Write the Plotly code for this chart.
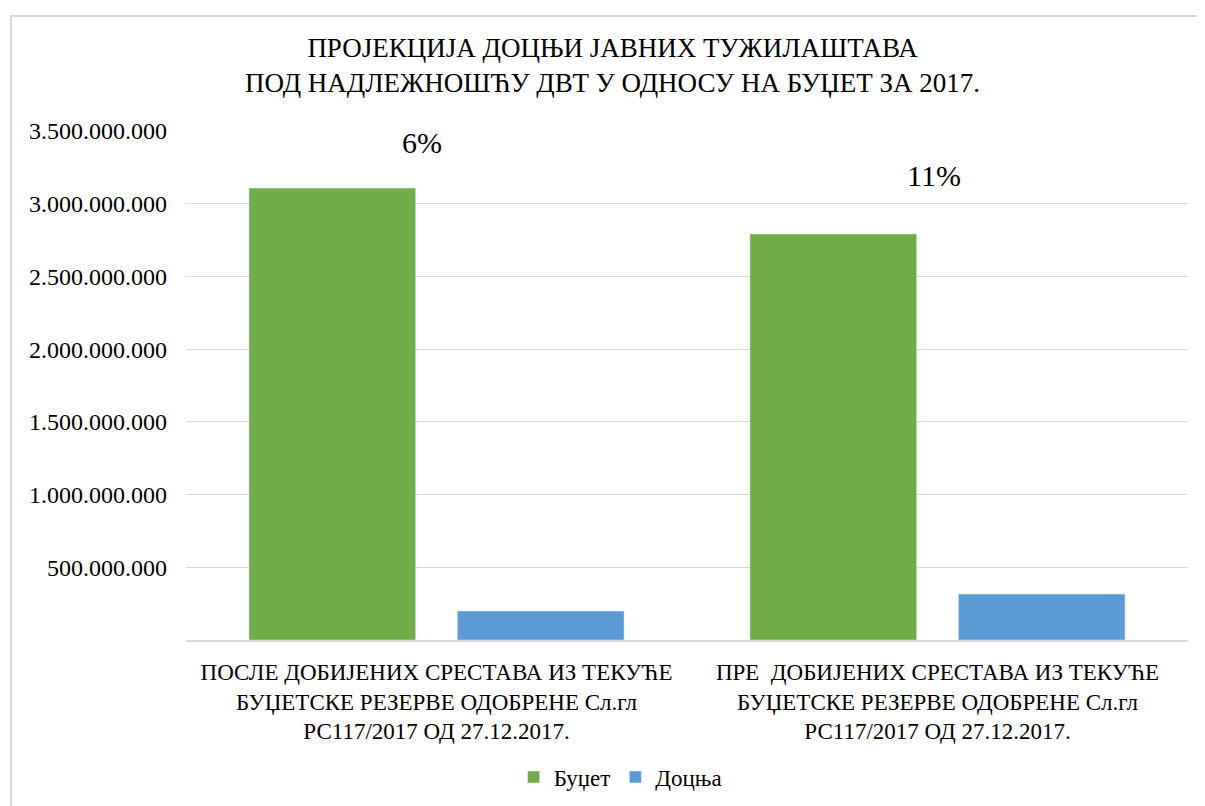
import plotly.graph_objects as go

categories = [
    "ПОСЛЕ ДОБИЈЕНИХ СРЕСТАВА ИЗ ТЕКУЋЕ<br>БУЏЕТСКЕ РЕЗЕРВЕ ОДОБРЕНЕ Сл.гл<br>РС117/2017 ОД 27.12.2017.",
    "ПРЕ  ДОБИЈЕНИХ СРЕСТАВА ИЗ ТЕКУЋЕ<br>БУЏЕТСКЕ РЕЗЕРВЕ ОДОБРЕНЕ Сл.гл<br>РС117/2017 ОД 27.12.2017.",
]
budget = [3108000000, 2792000000]
debt = [199000000, 316000000]
percent_labels = ["6%", "11%"]
y_ticks = [500000000, 1000000000, 1500000000, 2000000000, 2500000000, 3000000000, 3500000000]
series_names = ["Буџет", "Доцња"]
title_text = "ПРОЈЕКЦИЈА ДОЦЊИ ЈАВНИХ ТУЖИЛАШТАВА<br>ПОД НАДЛЕЖНОШЋУ ДВТ У ОДНОСУ НА БУЏЕТ ЗА 2017."

FONT = "Liberation Serif, Times New Roman, serif"

fig = go.Figure()
fig.add_trace(go.Bar(x=categories, y=budget, name=series_names[0], marker_color="#70AD47"))
fig.add_trace(go.Bar(x=categories, y=debt, name=series_names[1], marker_color="#5B9BD5"))

fig.add_annotation(x=categories[0], y=budget[0], text=percent_labels[0], showarrow=False,
                   xshift=-15, yshift=46, font=dict(family=FONT, size=30, color="#000"))
fig.add_annotation(x=categories[1], y=budget[1], text=percent_labels[1], showarrow=False,
                   xshift=-4, yshift=58, font=dict(family=FONT, size=30, color="#000"))

# chart title
fig.add_annotation(xref="paper", yref="paper", x=0.426, y=1.1287, xanchor="center", yanchor="middle",
                   text=title_text, showarrow=False, align="center",
                   font=dict(family=FONT, size=27, color="#000"))

# outer chart border
fig.add_shape(type="rect", xref="paper", yref="paper", x0=-0.1747, x1=1.2, y0=-0.6, y1=1.2259,
              line=dict(color="#d9d9d9", width=2), fillcolor="rgba(0,0,0,0)", layer="below")

fig.update_layout(
    width=1197, height=798,
    margin=dict(l=178, r=17, t=123, b=166),
    paper_bgcolor="white", plot_bgcolor="white",
    separators=",.",
    barmode="group", bargap=0.168, bargroupgap=0.2,
    font=dict(family=FONT, size=24, color="#000"),
    legend=dict(orientation="h", x=0.327, xanchor="left", yref="container", y=0.0363, yanchor="middle",
                font=dict(family=FONT, size=23, color="#000"), itemwidth=30),
    showlegend=True,
)
fig.update_yaxes(range=[0, 3500000000], tickvals=y_ticks, tickformat=",d",
                 showgrid=True, gridcolor="#d9d9d9", gridwidth=1, zeroline=False,
                 showline=False, ticklabelstandoff=18, automargin=False,
                 tickfont=dict(family=FONT, size=24, color="#000"))
fig.update_xaxes(showline=True, linecolor="#d9d9d9", linewidth=2, ticks="",
                 ticklabelstandoff=10, automargin=False,
                 tickfont=dict(family=FONT, size=23, color="#000"), tickangle=0)

fig.write_html("out.html")
